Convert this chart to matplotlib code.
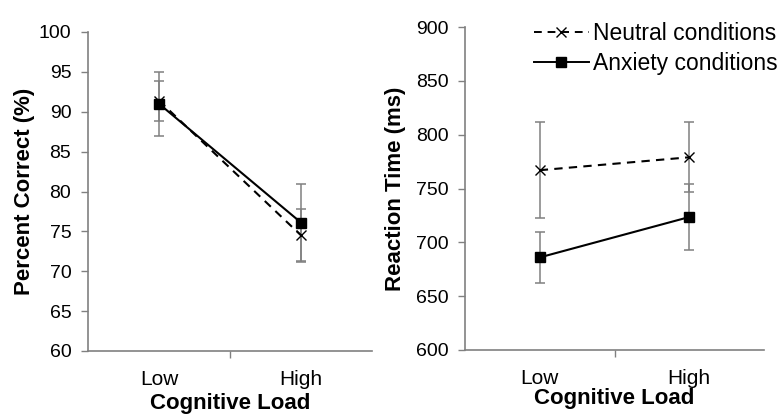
import matplotlib
matplotlib.use("Agg")
import matplotlib.pyplot as plt
from matplotlib.lines import Line2D

plt.rcParams['font.family'] = ['Liberation Sans', 'DejaVu Sans']

categories = ["Low", "High"]
series_names = ["Neutral conditions", "Anxiety conditions"]

acc_neutral = [91.4, 74.5]
acc_neutral_err = [2.5, 3.3]
acc_anxiety = [91.0, 76.1]
acc_anxiety_err = [4.0, 4.8]

rt_neutral = [767, 779]
rt_neutral_err = [44.5, 32.5]
rt_anxiety = [686, 723.5]
rt_anxiety_err = [24, 30.5]

acc_ticks = [60, 65, 70, 75, 80, 85, 90, 95, 100]
rt_ticks = [600, 650, 700, 750, 800, 850, 900]

W, H = 784, 420
fig = plt.figure(figsize=(W / 100, H / 100), dpi=100)

def px_axes(x0, y0, x1, y1):
    return fig.add_axes([x0 / W, 1 - y1 / H, (x1 - x0) / W, (y1 - y0) / H])

box1 = (88, 32, 372, 351)
box2 = (465, 27, 764, 350)
ax1 = px_axes(*box1)
ax2 = px_axes(*box2)

grey = '#808080'
xs = list(range(len(categories)))

def style(ax, box, ticks, ylabel, ylab_x, xlab_top):
    x0, y0, x1, y1 = box
    for s in ['top', 'right']:
        ax.spines[s].set_visible(False)
    for s in ['left', 'bottom']:
        ax.spines[s].set_color(grey)
        ax.spines[s].set_linewidth(1.2)
    ax.set_xlim(-0.5, 1.5)
    ax.set_ylim(ticks[0], ticks[-1])
    ax.set_yticks(ticks)
    ax.set_yticklabels([str(t) for t in ticks])
    ax.tick_params(axis='y', direction='out', length=5, width=1.0, color=grey,
                   labelsize=14, pad=7)
    ax.set_xticks([0.5])
    ax.set_xticklabels([''])
    ax.tick_params(axis='x', which='major', direction='out', length=5, width=1.0, color=grey)
    ax.set_xticks(xs, minor=True)
    ax.set_xticklabels(categories, minor=True)
    ax.tick_params(axis='x', which='minor', length=0, labelsize=15, pad=14)
    ax.set_xlabel("Cognitive Load", fontsize=16, fontweight='bold')
    ax.set_ylabel(ylabel, fontsize=16, fontweight='bold', va='center')
    ax.yaxis.set_label_coords((ylab_x - x0) / (x1 - x0), 0.5)
    ax.xaxis.set_label_coords(0.5, (y1 - xlab_top) / (y1 - y0))

def draw(ax, nv, ne, av, ae):
    ax.errorbar(xs, nv, yerr=ne, fmt='none', ecolor=grey, elinewidth=1.1,
                capsize=3.4, capthick=1.1, zorder=2)
    ax.errorbar(xs, av, yerr=ae, fmt='none', ecolor=grey, elinewidth=1.1,
                capsize=3.4, capthick=1.1, zorder=2)
    ax.plot(xs, nv, color='black', linestyle=(0, (4, 3)), linewidth=1.5,
            marker='x', markersize=7, markeredgewidth=1.0, zorder=3)
    ax.plot(xs, av, color='black', linestyle='-', linewidth=1.5,
            marker='s', markersize=6.5, zorder=3)

draw(ax1, acc_neutral, acc_neutral_err, acc_anxiety, acc_anxiety_err)
draw(ax2, rt_neutral, rt_neutral_err, rt_anxiety, rt_anxiety_err)
style(ax1, box1, acc_ticks, "Percent Correct (%)", 25, 393)
style(ax2, box2, rt_ticks, "Reaction Time (ms)", 395, 388)

handles = [
    Line2D([], [], color='black', linestyle=(0, (4, 3)), linewidth=1.4,
           marker='x', markersize=7, markeredgewidth=1.0),
    Line2D([], [], color='black', linestyle='-', linewidth=1.4,
           marker='s', markersize=6.5),
]
fig.legend(handles, series_names, loc='upper right',
           bbox_to_anchor=(778 / W, 1 - 22 / H), frameon=False, fontsize=16.5,
           handlelength=2.4, handletextpad=0.2, labelspacing=0.3,
           borderaxespad=0, borderpad=0)

fig.savefig("out.png", dpi=100)
